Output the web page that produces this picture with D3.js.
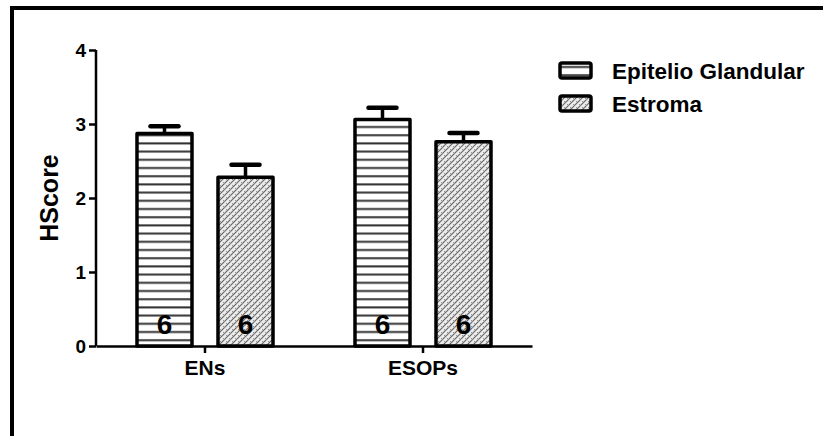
<!DOCTYPE html>
<html>
<head>
<meta charset="utf-8">
<script src="https://cdn.jsdelivr.net/npm/d3@7"></script>
<style>
	body { margin: 0; background: #fff; }
	svg { display: block; font-family: "Liberation Sans", Arial, sans-serif; font-weight: bold; }
</style>
</head>
<body>
<svg class="hscore-chart" width="823" height="436"></svg>
<script>

// data
var groups = ["ENs", "ESOPs"];
var series = ["Epitelio Glandular", "Estroma"];
var means = [
	[2.87, 2.28],   // ENs
	[3.06, 2.76]    // ESOPs
];
var sems = [
	[0.10, 0.17],
	[0.16, 0.12]
];
var counts = [
	[6, 6],
	[6, 6]
];
var yTicks = [0, 1, 2, 3, 4];

var svg = d3.select(".hscore-chart");

// outer frame (only top and left edges are visible)
svg.append("line")
	.attr("x1", 10).attr("y1", 8).attr("x2", 823).attr("y2", 8)
	.attr("stroke", "#000").attr("stroke-width", 4);
svg.append("line")
	.attr("x1", 12).attr("y1", 6).attr("x2", 12).attr("y2", 436)
	.attr("stroke", "#000").attr("stroke-width", 4);

// fill patterns
var defs = svg.append("defs");

var stripes = defs.append("pattern")
	.attr("id", "stripes")
	.attr("patternUnits", "userSpaceOnUse")
	.attr("width", 10)
	.attr("height", 8.2);
stripes.append("rect")
	.attr("width", 10).attr("height", 8.2).attr("fill", "#fff");
stripes.append("rect")
	.attr("y", 3).attr("width", 10).attr("height", 2).attr("fill", "#333");

var hatch = defs.append("pattern")
	.attr("id", "hatch")
	.attr("patternUnits", "userSpaceOnUse")
	.attr("width", 6)
	.attr("height", 6);
hatch.append("rect")
	.attr("width", 6).attr("height", 6).attr("fill", "#ececec");
hatch.append("path")
	.attr("d", "M-1,7 L7,-1 M-1,1 L1,-1 M5,7 L7,5")
	.attr("stroke", "#666")
	.attr("stroke-width", 1.2);
hatch.append("path")
	.attr("d", "M1,2 L3,4 M4,5 L5,6")
	.attr("stroke", "#888")
	.attr("stroke-width", 0.9);

var fills = ["url(#stripes)", "url(#hatch)"];

// scales
var y = d3.scaleLinear()
	.domain([0, 4])
	.range([346, 50]);

var x0 = d3.scaleBand()
	.domain(groups)
	.range([96, 532])
	.padding(0);

var x1 = d3.scaleBand()
	.domain(series)
	.range([0, x0.bandwidth()])
	.paddingInner(0.321)
	.paddingOuter(0.506);

// y axis
var yAxis = svg.append("g")
	.attr("transform", "translate(96,0)")
	.call(d3.axisLeft(y).tickValues(yTicks).tickFormat(d3.format("d")).tickSize(7).tickPadding(3));
yAxis.select(".domain")
	.attr("stroke-width", 2.5)
	.attr("d", "M0," + y(4) + "V" + y(0));
yAxis.selectAll(".tick line").attr("stroke-width", 2.5);
yAxis.selectAll(".tick text")
	.attr("font-size", 19)
	.attr("font-family", "Liberation Sans, Arial, sans-serif")
	.attr("font-weight", "bold")
	.attr("fill", "#000");

// bars
var groupG = svg.append("g")
	.selectAll("g")
	.data(groups)
	.enter().append("g")
	.attr("transform", function(d) { return "translate(" + x0(d) + ",0)"; });

var cells = groupG.selectAll(".cell")
	.data(function(g, gi) {
		return series.map(function(s, si) {
			return { group: g, series: s, si: si, mean: means[gi][si], sem: sems[gi][si], n: counts[gi][si] };
		});
	})
	.enter().append("g")
	.attr("class", "cell");

// error bars (upper only)
cells.append("line")
	.attr("x1", function(d) { return x1(d.series) + x1.bandwidth() / 2; })
	.attr("x2", function(d) { return x1(d.series) + x1.bandwidth() / 2; })
	.attr("y1", function(d) { return y(d.mean); })
	.attr("y2", function(d) { return y(d.mean + d.sem); })
	.attr("stroke", "#000").attr("stroke-width", 3.5);
cells.append("line")
	.attr("x1", function(d) { return x1(d.series) + x1.bandwidth() / 2 - 14; })
	.attr("x2", function(d) { return x1(d.series) + x1.bandwidth() / 2 + 14; })
	.attr("y1", function(d) { return y(d.mean + d.sem); })
	.attr("y2", function(d) { return y(d.mean + d.sem); })
	.attr("stroke", "#000").attr("stroke-width", 4.5).attr("stroke-linecap", "round");

cells.append("rect")
	.attr("x", function(d) { return x1(d.series); })
	.attr("y", function(d) { return y(d.mean); })
	.attr("width", x1.bandwidth())
	.attr("height", function(d) { return y(0) - y(d.mean); })
	.attr("fill", function(d) { return fills[d.si]; })
	.attr("stroke", "#000")
	.attr("stroke-width", 3.5)
	.attr("stroke-linejoin", "round");

cells.append("text")
	.attr("x", function(d) { return x1(d.series) + x1.bandwidth() / 2; })
	.attr("y", 334)
	.attr("text-anchor", "middle")
	.attr("font-size", 28)
	.text(function(d) { return d.n; });

// x axis
var xAxis = svg.append("g")
	.attr("transform", "translate(0," + y(0) + ")")
	.call(d3.axisBottom(x0).tickSize(7).tickPadding(5).tickSizeOuter(0));
xAxis.select(".domain").attr("stroke-width", 2.5);
xAxis.selectAll(".tick line").attr("stroke-width", 2.5);
xAxis.selectAll(".tick text")
	.attr("font-size", 21)
	.attr("font-family", "Liberation Sans, Arial, sans-serif")
	.attr("font-weight", "bold")
	.attr("fill", "#000")
	.attr("dy", "0.8em");

// y title
svg.append("text")
	.attr("transform", "translate(58,198) rotate(-90)")
	.attr("text-anchor", "middle")
	.attr("font-size", 25)
	.text("HScore");

// legend
var legend = svg.append("g")
	.selectAll("g")
	.data(series)
	.enter().append("g")
	.attr("transform", function(d, i) { return "translate(560," + (63 + i * 33) + ")"; });

legend.append("rect")
	.attr("width", 31)
	.attr("height", 15)
	.attr("rx", 2)
	.attr("fill", function(d, i) { return fills[i]; })
	.attr("stroke", "#000")
	.attr("stroke-width", 3.5);

legend.append("text")
	.attr("x", 52)
	.attr("y", 16)
	.attr("font-size", 22.5)
	.text(function(d) { return d; });

</script>
</body>
</html>
